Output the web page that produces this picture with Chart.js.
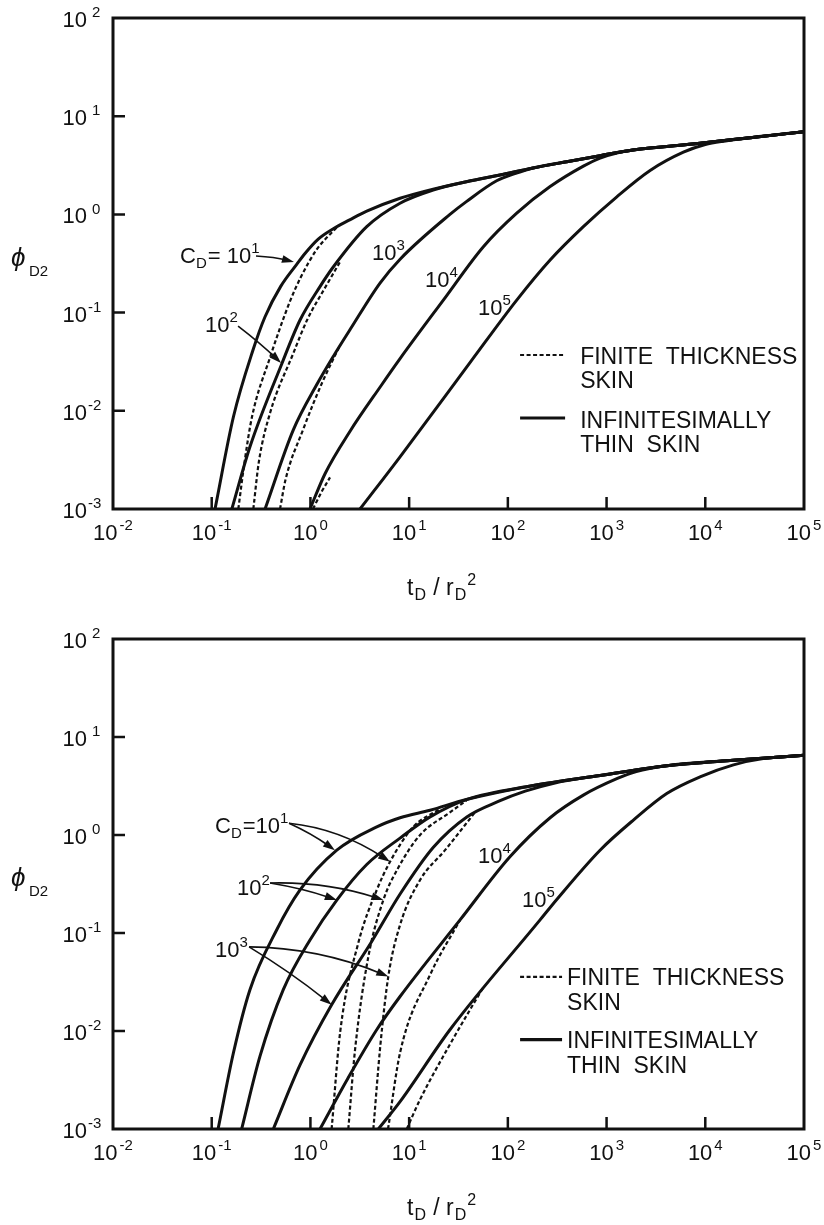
<!DOCTYPE html>
<html>
<head>
<meta charset="utf-8">
<script src="https://cdn.jsdelivr.net/npm/chart.js@4.4.0/dist/chart.umd.min.js"></script>
<style>
  html, body { margin: 0; padding: 0; background: #fff; }
  #wrap { position: relative; width: 824px; height: 1225px; }
  canvas { position: absolute; left: 0; }
</style>
</head>
<body>
<div id="wrap">
  <canvas id="chartTop" width="824" height="612" style="top:0"></canvas>
  <canvas id="chartBottom" width="824" height="613" style="top:612px"></canvas>
</div>
<script>
// axis ticks (powers of ten)
const xTicks = [1e-2, 1e-1, 1, 10, 100, 1000, 1e4, 1e5];
const xTickExp = ['-2', '-1', '0', '1', '2', '3', '4', '5'];
const yTicks = [1e-3, 1e-2, 1e-1, 1, 10, 100];
const yTickExp = ['-3', '-2', '-1', '0', '1', '2'];

// ---- top chart: [tD/rD^2, phiD2] ----
// late time curve that all C_D curves run into
const envTop = [[8.1, 1.46], [17.5, 1.81], [38, 2.15], [83, 2.52], [180, 2.97], [395, 3.44], [860, 3.96], [1850, 4.53], [8850, 5.3], [30000, 6.08], [100000, 6.95]];
const topSolid10 = [[0.108, 0.001], [0.166, 0.0087], [0.262, 0.0416], [0.347, 0.0908], [0.5, 0.185], [0.726, 0.31], [0.881, 0.4], [1.2, 0.56], [1.69, 0.71], [2.5, 0.88], [3.72, 1.08]];
const topSolid100 = [[0.16, 0.001], [0.244, 0.0043], [0.512, 0.03], [0.785, 0.084], [1.25, 0.184], [1.71, 0.293], [3.72, 0.75], [8.09, 1.3], [17.5, 1.77]];
const topSolid1000 = [[0.347, 0.001], [0.671, 0.0064], [1.16, 0.0185], [1.71, 0.036], [2.54, 0.068], [5.07, 0.2], [8.1, 0.35], [25.9, 1.0], [38, 1.35], [77, 2.2], [120, 2.62]];
const topSolid1e4 = [[0.99, 0.001], [1.41, 0.0023], [2.52, 0.0062], [5.19, 0.018], [8.09, 0.034], [22.2, 0.134], [56.5, 0.469], [123, 1.03], [268, 1.92], [582, 3.1], [860, 3.75], [1300, 4.25]];
const topSolid1e5 = [[3.18, 0.001], [8.09, 0.0034], [42.4, 0.032], [123, 0.134], [268, 0.343], [582, 0.75], [1270, 1.51], [2760, 2.8], [6000, 4.3], [10000, 5.15], [16000, 5.6]];
const topDash10 = [[0.186, 0.001], [0.215, 0.003], [0.256, 0.0087], [0.39, 0.035], [0.62, 0.13], [0.8, 0.23], [1.16, 0.44], [1.85, 0.74]];
const topDash100 = [[0.264, 0.001], [0.3, 0.003], [0.39, 0.0095], [0.667, 0.038], [0.925, 0.084], [1.41, 0.18], [2.0, 0.33]];
const topDash1000 = [[0.492, 0.001], [0.56, 0.002], [0.841, 0.0064], [1.31, 0.0192], [2.0, 0.0468]];
const topDash1e4 = [[1.06, 0.001], [1.3, 0.0015], [1.58, 0.0021]];

// ---- bottom chart ----
const envBottom = [[8.1, 1.5], [16.3, 1.79], [38, 2.3], [181, 3.2], [860, 4.05], [4070, 5.1], [19300, 5.8], [100000, 6.5]];
const botSolid10 = [[0.116, 0.001], [0.166, 0.006], [0.244, 0.0264], [0.456, 0.108], [0.785, 0.275], [1.85, 0.7], [4.7, 1.21]];
const botSolid100 = [[0.201, 0.001], [0.308, 0.0055], [0.531, 0.0264], [0.99, 0.085], [1.85, 0.217], [3.72, 0.5], [8.09, 0.93], [16.3, 1.53]];
const botSolid1000 = [[0.421, 0.001], [0.785, 0.0045], [1.64, 0.0185], [4.18, 0.082], [8.1, 0.25], [17.6, 0.75], [38.4, 1.53], [80, 2.2], [150, 2.8], [300, 3.4]];
const botSolid1e4 = [[1.25, 0.001], [2.4, 0.0033], [4.69, 0.0103], [8.09, 0.0225], [32.8, 0.136], [105, 0.6], [268, 1.5], [582, 2.55], [1270, 3.75], [2000, 4.45]];
const botSolid1e5 = [[4.88, 0.001], [8.09, 0.0019], [25.9, 0.0103], [212, 0.136], [313, 0.22], [859, 0.7], [1870, 1.42], [4070, 2.65], [8850, 3.92], [19300, 5.2], [40000, 6.05]];
const botDash10 = [[1.64, 0.001], [2.0, 0.0097], [3.05, 0.0787], [4.7, 0.275], [6.4, 0.533], [11, 1.21], [20.6, 1.85]];
const botDash100 = [[2.42, 0.001], [2.83, 0.0064], [3.84, 0.0557], [5.48, 0.217], [7.73, 0.46], [12.9, 1.0], [25.9, 1.7], [38, 2.25]];
const botDash1000 = [[4.34, 0.001], [5.1, 0.007], [6.15, 0.036], [8.09, 0.121], [12.9, 0.347], [23.1, 0.7], [46.6, 1.71]];
const botDash1e4 = [[6.11, 0.001], [8.09, 0.006], [16.3, 0.0374], [32.8, 0.136]];
const botDash1e5 = [[9.46, 0.001], [12.9, 0.002], [25.9, 0.0073], [41.4, 0.0165], [56.5, 0.028]];

// curve labels and arrows, in data coordinates (left / baseline of the text)
const topNotes = [
  { t: 0.0478, v: 0.32, runs: [['C', 0], ['D', -1], ['= 10', 0, 1], ['1', 1]] },
  { t: 0.0855, v: 0.0634, runs: [['10', 0], ['2', 1]] },
  { t: 4.21, v: 0.343, runs: [['10', 0], ['3', 1]] },
  { t: 14.5, v: 0.182, runs: [['10', 0], ['4', 1]] },
  { t: 49.9, v: 0.0946, runs: [['10', 0], ['5', 1]] }
];
const topArrows = [
  { from: [0.281, 0.377], to: [0.681, 0.327], bend: -2 },
  { from: [0.185, 0.073], to: [0.504, 0.0307], bend: -2 }
];
const topKey = [
  { dash: true, from: 133, to: 380, at: 0.037, textAt: 540, lines: [['FINITE  THICKNESS', 0.030], ['SKIN', 0.0171]] },
  { dash: false, from: 133, to: 380, at: 0.00845, textAt: 540, lines: [['INFINITESIMALLY', 0.00668], ['THIN  SKIN', 0.0038]] }
];
const botNotes = [
  { t: 0.108, v: 1.045, runs: [['C', 0], ['D', -1], ['=10', 0, 1], ['1', 1]] },
  { t: 0.18, v: 0.244, runs: [['10', 0], ['2', 1]] },
  { t: 0.108, v: 0.0571, runs: [['10', 0], ['3', 1]] },
  { t: 49.9, v: 0.518, runs: [['10', 0], ['4', 1]] },
  { t: 139, v: 0.184, runs: [['10', 0], ['5', 1]] }
];
const botArrows = [
  { from: [0.607, 1.32], to: [1.77, 0.70], bend: -3 },
  { from: [0.607, 1.32], to: [6.40, 0.533], bend: -14 },
  { from: [0.39, 0.324], to: [1.85, 0.217], bend: -3 },
  { from: [0.39, 0.324], to: [5.48, 0.217], bend: -10 },
  { from: [0.239, 0.0722], to: [1.64, 0.0185], bend: -4 },
  { from: [0.239, 0.0722], to: [6.15, 0.036], bend: -14 }
];
const botKey = [
  { dash: true, from: 133, to: 354, at: 0.0357, textAt: 398, lines: [['FINITE  THICKNESS', 0.0296], ['SKIN', 0.0165]] },
  { dash: false, from: 133, to: 354, at: 0.00815, textAt: 398, lines: [['INFINITESIMALLY', 0.00676], ['THIN  SKIN', 0.00376]] }
];

const ink = '#111';
const dashPattern = [4, 2.5];

function font(size, style) {
  return (style ? style + ' ' : '') + size + 'px "Liberation Sans", Arial, Helvetica, sans-serif';
}
function small(size) { return Math.round(size * 0.68); }

function runsWidth(ctx, runs, size) {
  let w = 0;
  runs.forEach(r => {
    ctx.font = font(r[1] ? small(size) : size);
    w += ctx.measureText(r[0]).width + (r[2] || 0);
  });
  return w;
}
// runs: [text, 0 normal | 1 superscript | -1 subscript, gap before]
function drawRuns(ctx, runs, x, y, size) {
  runs.forEach(r => {
    const dy = r[1] === 1 ? -0.45 * size : r[1] === -1 ? 0.22 * size : 0;
    ctx.font = font(r[1] ? small(size) : size);
    x += r[2] || 0;
    ctx.fillText(r[0], x, y + dy);
    x += ctx.measureText(r[0]).width;
  });
}

function pts(arr) { return arr.map(p => ({ x: p[0], y: p[1] })); }
// a C_D curve joins the common late-time curve after its last own point
function withEnv(part, env) {
  const last = part[part.length - 1][0];
  return part.concat(env.filter(p => p[0] > last * 1.3));
}
function solid(arr) {
  return { data: pts(arr), showLine: true, borderColor: ink, borderWidth: 3, pointRadius: 0, cubicInterpolationMode: 'monotone' };
}
function dashed(arr) {
  return { data: pts(arr), showLine: true, borderColor: ink, borderWidth: 2.2, borderDash: dashPattern, pointRadius: 0, cubicInterpolationMode: 'monotone' };
}

function drawArrow(ctx, xs, ys, a) {
  const x1 = xs.getPixelForValue(a.from[0]), y1 = ys.getPixelForValue(a.from[1]);
  const x2 = xs.getPixelForValue(a.to[0]), y2 = ys.getPixelForValue(a.to[1]);
  const cx = (x1 + x2) / 2, cy = (y1 + y2) / 2 + a.bend;
  const ang = Math.atan2(y2 - cy, x2 - cx);
  const c = Math.cos(ang), s = Math.sin(ang);
  ctx.lineWidth = 1.6;
  ctx.beginPath();
  ctx.moveTo(x1, y1);
  ctx.quadraticCurveTo(cx, cy, x2 - 8 * c, y2 - 8 * s);
  ctx.stroke();
  ctx.beginPath();
  ctx.moveTo(x2, y2);
  ctx.lineTo(x2 - 12 * c + 4 * s, y2 - 12 * s - 4 * c);
  ctx.lineTo(x2 - 12 * c - 4 * s, y2 - 12 * s + 4 * c);
  ctx.closePath();
  ctx.fill();
}

function decor(notes, arrows, key) {
  return {
    id: 'decor',
    afterDatasetsDraw(chart) {
      const ctx = chart.ctx, a = chart.chartArea;
      const xs = chart.scales.x, ys = chart.scales.y;
      ctx.save();
      ctx.fillStyle = ink;
      ctx.strokeStyle = ink;
      ctx.setLineDash([]);

      // frame
      ctx.lineWidth = 3;
      ctx.strokeRect(a.left, a.top, a.right - a.left, a.bottom - a.top);

      // inward tick marks
      ctx.lineWidth = 2.5;
      ctx.beginPath();
      xTicks.slice(1, -1).forEach(v => {
        const x = xs.getPixelForValue(v);
        ctx.moveTo(x, a.bottom);
        ctx.lineTo(x, a.bottom - 12);
      });
      yTicks.slice(1, -1).forEach(v => {
        const y = ys.getPixelForValue(v);
        ctx.moveTo(a.left, y);
        ctx.lineTo(a.left + 12, y);
      });
      ctx.stroke();

      // tick labels
      ctx.textAlign = 'left';
      ctx.textBaseline = 'alphabetic';
      xTicks.forEach((v, i) => {
        const runs = [['10', 0], [xTickExp[i], 1, 2]];
        const w = runsWidth(ctx, runs, 22);
        drawRuns(ctx, runs, xs.getPixelForValue(v) - w / 2, a.bottom + 31, 22);
      });
      yTicks.forEach((v, i) => {
        ctx.font = font(22);
        const w10 = ctx.measureText('10').width;
        const gap = yTickExp[i][0] === '-' ? 1 : 5;
        drawRuns(ctx, [['10', 0], [yTickExp[i], 1, gap]], a.left - 26 - w10, ys.getPixelForValue(v) + 9, 22);
      });

      // axis titles
      drawRuns(ctx, [['t', 0], ['D', -1, 1], [' / r', 0, 1], ['D', -1, 1], ['2', 1, 1]], a.left + 294, a.bottom + 86, 23);
      const midY = (a.top + a.bottom) / 2;
      ctx.font = font(26, 'italic');
      ctx.fillText('ϕ', 11, midY + 2);
      ctx.font = font(15);
      ctx.fillText('D2', 29, midY + 12);

      // curve labels and arrows
      notes.forEach(n => drawRuns(ctx, n.runs, xs.getPixelForValue(n.t), ys.getPixelForValue(n.v), 22));
      arrows.forEach(ar => drawArrow(ctx, xs, ys, ar));

      // key
      key.forEach(k => {
        const y = ys.getPixelForValue(k.at);
        ctx.lineWidth = k.dash ? 2.2 : 3.2;
        ctx.setLineDash(k.dash ? dashPattern : []);
        ctx.beginPath();
        ctx.moveTo(xs.getPixelForValue(k.from), y);
        ctx.lineTo(xs.getPixelForValue(k.to), y);
        ctx.stroke();
        ctx.setLineDash([]);
        ctx.font = font(23);
        k.lines.forEach(l => ctx.fillText(l[0], xs.getPixelForValue(k.textAt), ys.getPixelForValue(l[1])));
      });
      ctx.restore();
    }
  };
}

function makeChart(id, datasets, pad, notes, arrows, key) {
  return new Chart(document.getElementById(id), {
    type: 'scatter',
    data: { datasets: datasets },
    options: {
      responsive: false,
      animation: false,
      devicePixelRatio: 1,
      layout: { padding: pad, autoPadding: false },
      plugins: { legend: { display: false }, tooltip: { enabled: false } },
      scales: {
        x: { type: 'logarithmic', min: 1e-2, max: 1e5, display: false },
        y: { type: 'logarithmic', min: 1e-3, max: 1e2, display: false }
      }
    },
    plugins: [decor(notes, arrows, key)]
  });
}

const chartTop = makeChart('chartTop', [
  solid(withEnv(topSolid10, envTop)),
  solid(withEnv(topSolid100, envTop)),
  solid(withEnv(topSolid1000, envTop)),
  solid(withEnv(topSolid1e4, envTop)),
  solid(withEnv(topSolid1e5, envTop)),
  dashed(topDash10),
  dashed(topDash100),
  dashed(topDash1000),
  dashed(topDash1e4)
], { left: 113, right: 20, top: 18, bottom: 103 }, topNotes, topArrows, topKey);

const chartBottom = makeChart('chartBottom', [
  solid(withEnv(botSolid10, envBottom)),
  solid(withEnv(botSolid100, envBottom)),
  solid(withEnv(botSolid1000, envBottom)),
  solid(withEnv(botSolid1e4, envBottom)),
  solid(withEnv(botSolid1e5, envBottom)),
  dashed(botDash10),
  dashed(botDash100),
  dashed(botDash1000),
  dashed(botDash1e4),
  dashed(botDash1e5)
], { left: 113, right: 20, top: 27, bottom: 96 }, botNotes, botArrows, botKey);
</script>
</body>
</html>
